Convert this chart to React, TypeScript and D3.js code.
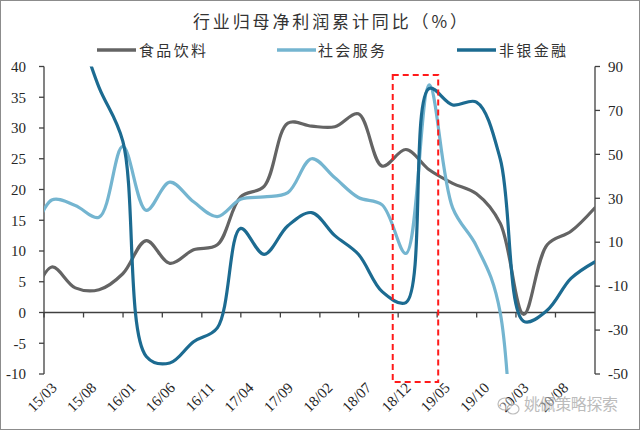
import React from "react";
import * as d3 from "d3";

// ---------- data ----------
const periods = [
  "2014-12-31", "2015-03-31", "2015-06-30", "2015-09-30", "2015-12-31",
  "2016-03-31", "2016-06-30", "2016-09-30", "2016-12-31",
  "2017-03-31", "2017-06-30", "2017-09-30", "2017-12-31",
  "2018-03-31", "2018-06-30", "2018-09-30", "2018-12-31",
  "2019-03-31", "2019-06-30", "2019-09-30", "2019-12-31",
  "2020-03-31", "2020-06-30", "2020-09-30", "2020-12-31",
];
// 食品饮料 (left axis)
const foodBeverage = [0.5, 7.4, 4.0, 3.7, 6.3, 11.7, 8.0, 10.2, 11.0, 18.8, 20.5, 30.8, 30.3, 30.2, 32.3, 23.8, 26.5, 23.2, 21.0, 19.3, 14.5, -0.3, 11.0, 13.2, 17.0];
// 社会服务 (left axis)
const socialService: (number | null)[] = [10, 18.3, 17.4, 15.5, 27.0, 16.6, 21.2, 18.0, 15.6, 18.4, 18.8, 19.5, 25.0, 21.9, 18.7, 17.5, 9.6, 37.0, 17.0, 10.8, 0, -160, null, null, null];
// 非银金融 (right axis)
const nonBankFinance = [120, 130, 110, 80.5, 56, -42, -45, -35.3, -29, 16.3, 4.5, 17.5, 23.5, 13.0, 4.5, -12.5, -17.5, 80, 72.5, 73.8, 48, -26, -21, -6.5, 1.0];

const seriesNames = ["食品饮料", "社会服务", "非银金融"];
const seriesColors = ["#646464", "#74b5d0", "#1c6b91"];

const xTickLabels = ["15/03", "15/08", "16/01", "16/06", "16/11", "17/04", "17/09", "18/02", "18/07", "18/12", "19/05", "19/10", "20/03", "20/08"];
const leftTicks = [-10, -5, 0, 5, 10, 15, 20, 25, 30, 35, 40];
const rightTicks = [-50, -30, -10, 10, 30, 50, 70, 90];

const title = "行业归母净利润累计同比（%）";
const watermark = "姚佩策略探索";
// highlighted window (dates) for the red dashed box
const highlightRange = ["2018-11-10", "2019-05-05"];

// ---------- layout ----------
const W = 640, H = 430;
const plot = { left: 44, right: 595, top: 66.5, bottom: 374 };
const serif = "'Liberation Serif', 'Times New Roman', serif";
const cjk = "'Noto Sans CJK SC', 'Noto Sans', sans-serif";

const parse = d3.timeParse("%Y-%m-%d");
const parseTick = (s: string) => new Date(2000 + +s.slice(0, 2), +s.slice(3) - 1, 1);

export default function App() {
  const x = d3.scaleTime()
    .domain([new Date(2015, 2, 1), new Date(2021, 0, 1)])
    .range([plot.left, plot.right]);
  const yL = d3.scaleLinear().domain([-10, 40]).range([plot.bottom, plot.top]);
  const yR = d3.scaleLinear().domain([-50, 90]).range([plot.bottom, plot.top]);
  const dates = periods.map((p) => parse(p) as Date);

  const mk = (vals: (number | null)[], y: d3.ScaleLinear<number, number>) =>
    d3.line<number | null>()
      .defined((d) => d !== null)
      .x((_, i) => x(dates[i]))
      .y((d) => y(d as number))
      .curve(d3.curveCatmullRom.alpha(0.5))(vals) || "";

  const paths = [mk(foodBeverage, yL), mk(socialService, yL), mk(nonBankFinance, yR)];
  const axisColor = "#404040";
  const y0 = yL(0);

  const hx0 = x(parse(highlightRange[0]) as Date);
  const hx1 = x(parse(highlightRange[1]) as Date);

  const legendItems = [
    { lx: 97, tx: 139 },
    { lx: 277, tx: 318 },
    { lx: 457, tx: 499 },
  ];

  return (
    <svg width={W} height={H} style={{ position: "absolute", left: 0, top: 0, background: "#fff" }}>
      <rect x={0.5} y={0.5} width={W - 1} height={H - 1} fill="#fff" stroke="#8c8c8c" />
      <defs>
        <clipPath id="plotClip">
          <rect x={plot.left} y={plot.top} width={plot.right - plot.left} height={plot.bottom - plot.top} />
        </clipPath>
      </defs>

      {/* title */}
      <text x={193} y={28} fontFamily={cjk} fontSize={17} fill="#333" textLength={274} lengthAdjust="spacing">{title}</text>

      {/* legend */}
      {seriesNames.map((n, i) => (
        <g key={n}>
          <line x1={legendItems[i].lx} x2={legendItems[i].lx + 39} y1={50} y2={50} stroke={seriesColors[i]} strokeWidth={3.5} />
          <text x={legendItems[i].tx} y={55.5} fontFamily={cjk} fontSize={15} fill="#333" textLength={67} lengthAdjust="spacing">{n}</text>
        </g>
      ))}

      {/* left axis */}
      <line x1={plot.left} x2={plot.left} y1={plot.top} y2={plot.bottom} stroke={axisColor} strokeWidth={1.3} />
      {leftTicks.map((t) => (
        <g key={"l" + t}>
          <line x1={plot.left - 5} x2={plot.left} y1={yL(t)} y2={yL(t)} stroke={axisColor} strokeWidth={1.3} />
          <text x={26} y={yL(t)} dy="0.35em" textAnchor="end" fontFamily={serif} fontSize={15} fill="#262626">{t}</text>
        </g>
      ))}

      {/* right axis */}
      <line x1={plot.right} x2={plot.right} y1={plot.top} y2={plot.bottom} stroke={axisColor} strokeWidth={1.3} />
      {rightTicks.map((t) => (
        <g key={"r" + t}>
          <line x1={plot.right} x2={plot.right + 5} y1={yR(t)} y2={yR(t)} stroke={axisColor} strokeWidth={1.3} />
          <text x={608} y={yR(t)} dy="0.35em" textAnchor="start" fontFamily={serif} fontSize={15} fill="#262626">{t}</text>
        </g>
      ))}

      {/* x axis at zero */}
      <line x1={plot.left} x2={plot.right} y1={y0} y2={y0} stroke={axisColor} strokeWidth={1.3} />
      {xTickLabels.map((s) => {
        const tx = x(parseTick(s));
        return (
          <g key={s}>
            <line x1={tx} x2={tx} y1={y0} y2={y0 + 5} stroke={axisColor} strokeWidth={1.3} />
            <text transform={`translate(${tx + 10},${plot.bottom + 11}) rotate(-45)`} textAnchor="end" dy="0.35em" fontFamily={serif} fontSize={15} fill="#262626">{s}</text>
          </g>
        );
      })}

      {/* series */}
      <g clipPath="url(#plotClip)">
        {paths.map((d, i) => (
          <path key={i} d={d} fill="none" stroke={seriesColors[i]} strokeWidth={3.2} strokeLinejoin="round" strokeLinecap="round" />
        ))}
      </g>

      {/* highlight box */}
      <rect x={hx0} y={75} width={hx1 - hx0} height={307} fill="none" stroke="#ff1a1a" strokeWidth={2} strokeDasharray="6,4" />

      {/* watermark */}
      <g opacity={0.7}>
        <g fill="none" stroke="#a0a0a0" strokeWidth={1.2}>
          <ellipse cx={505} cy={404} rx={7} ry={6} fill="rgba(255,255,255,0.5)" />
          <ellipse cx={513} cy={409} rx={6} ry={5} fill="rgba(255,255,255,0.5)" />
        </g>
        <text x={524} y={410} fontFamily={cjk} fontSize={16} fill="#a0a0a0" stroke="rgba(255,255,255,0.6)" strokeWidth={2} paintOrder="stroke" textLength={94} lengthAdjust="spacing">{watermark}</text>
      </g>
    </svg>
  );
}
